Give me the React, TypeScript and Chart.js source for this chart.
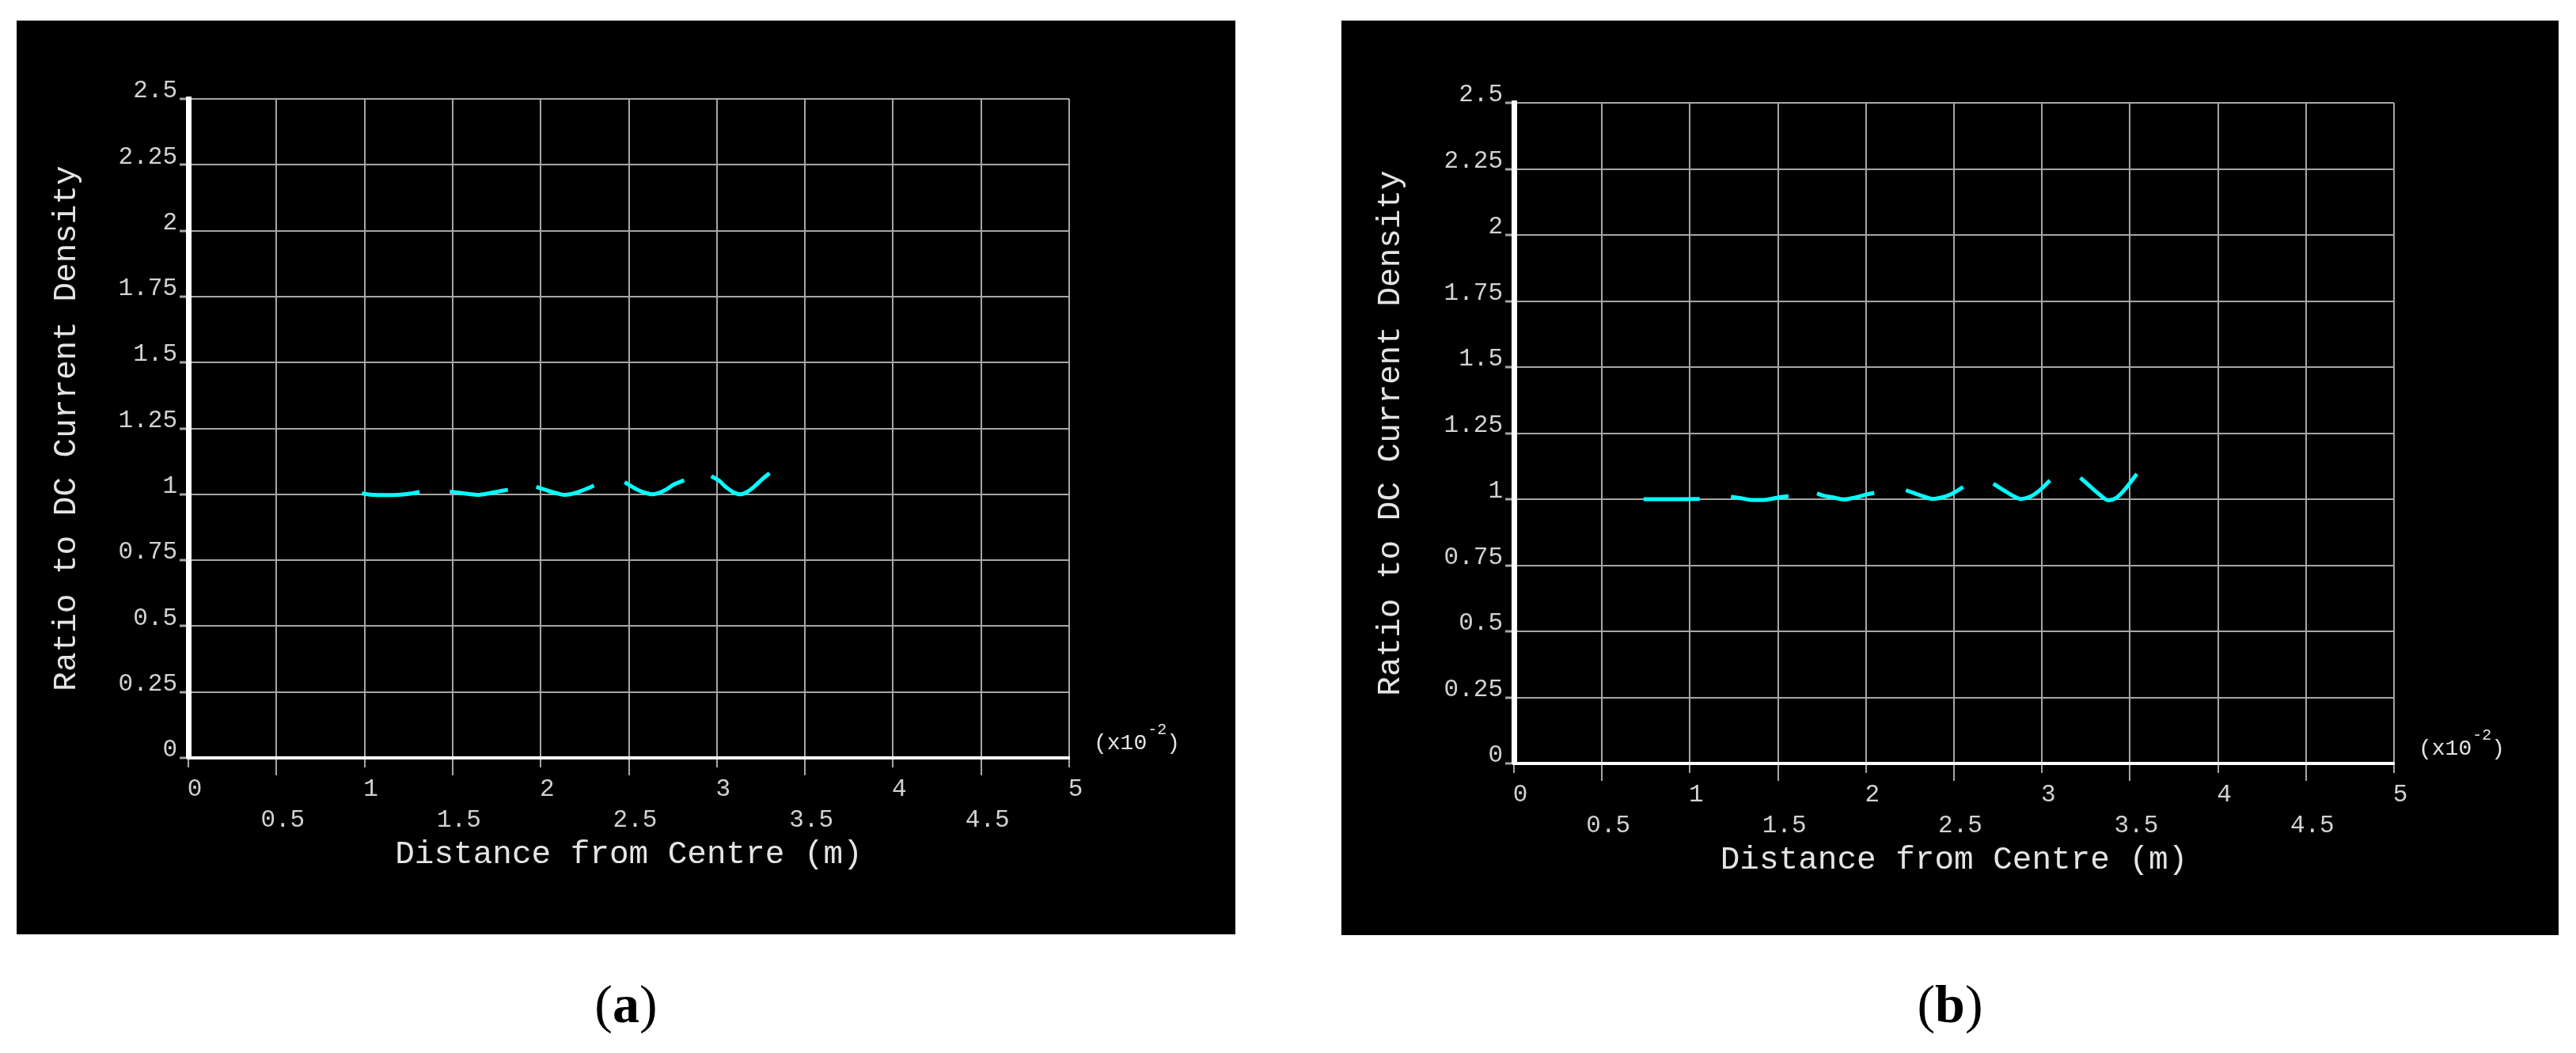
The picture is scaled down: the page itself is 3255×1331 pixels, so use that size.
import React, { useEffect, useRef } from 'react';
import { Chart, registerables } from 'chart.js';

Chart.register(...registerables);

// ---------- axis data ----------
const xTickValues = [0, 0.5, 1, 1.5, 2, 2.5, 3, 3.5, 4, 4.5, 5];
const xTickLabels = ['0', '0.5', '1', '1.5', '2', '2.5', '3', '3.5', '4', '4.5', '5'];
const yTickValues = [0, 0.25, 0.5, 0.75, 1, 1.25, 1.5, 1.75, 2, 2.25, 2.5];
const yTickLabels = ['0', '0.25', '0.5', '0.75', '1', '1.25', '1.5', '1.75', '2', '2.25', '2.5'];
const xAxisTitle = 'Distance from Centre (m)';
const yAxisTitle = 'Ratio to DC Current Density';
const scaleNoteMain = '(x10';
const scaleNoteSup = '-2';
const scaleNoteEnd = ')';
const captions = ['a', 'b'];

// ---------- panel (a) series ----------
const a1X = [0.985, 1.057, 1.132, 1.207, 1.267, 1.312];
const a1Y = [1.003, 0.998, 0.997, 0.999, 1.003, 1.009];
const a2X = [1.484, 1.536, 1.596, 1.641, 1.701, 1.761, 1.814];
const a2Y = [1.011, 1.006, 1.001, 0.998, 1.003, 1.011, 1.017];
const a3X = [1.975, 2.031, 2.092, 2.132, 2.172, 2.222, 2.262, 2.302];
const a3Y = [1.028, 1.016, 1.004, 0.998, 1.001, 1.011, 1.021, 1.033];
const a4X = [2.477, 2.513, 2.553, 2.593, 2.633, 2.673, 2.713, 2.753, 2.814];
const a4Y = [1.046, 1.031, 1.016, 1.006, 1.0, 1.006, 1.018, 1.036, 1.053];
const a5X = [2.968, 3.014, 3.054, 3.094, 3.134, 3.174, 3.215, 3.255, 3.299];
const a5Y = [1.069, 1.051, 1.026, 1.008, 1.0, 1.01, 1.031, 1.056, 1.08];

// ---------- panel (b) series ----------
const b1X = [0.736, 0.85, 0.95, 1.055];
const b1Y = [1.0, 1.0, 1.0, 1.001];
const b2X = [1.233, 1.29, 1.35, 1.41, 1.47, 1.515, 1.56];
const b2Y = [1.009, 1.004, 0.997, 0.997, 1.002, 1.008, 1.012];
const b3X = [1.722, 1.755, 1.815, 1.875, 1.92, 1.965, 2.01, 2.047];
const b3Y = [1.022, 1.014, 1.007, 0.999, 1.004, 1.011, 1.019, 1.024];
const b4X = [2.227, 2.277, 2.334, 2.378, 2.426, 2.483, 2.552];
const b4Y = [1.034, 1.022, 1.009, 1.001, 1.006, 1.019, 1.046];
const b5X = [2.724, 2.782, 2.827, 2.88, 2.931, 2.988, 3.045];
const b5Y = [1.059, 1.034, 1.016, 1.001, 1.009, 1.034, 1.071];
const b6X = [3.218, 3.264, 3.321, 3.378, 3.424, 3.47, 3.539];
const b6Y = [1.081, 1.054, 1.021, 0.996, 1.006, 1.036, 1.096];

const seriesA = [[a1X, a1Y], [a2X, a2Y], [a3X, a3Y], [a4X, a4Y], [a5X, a5Y]];
const seriesB = [[b1X, b1Y], [b2X, b2Y], [b3X, b3Y], [b4X, b4Y], [b5X, b5Y], [b6X, b6Y]];

const MONO = '"Liberation Mono", "DejaVu Sans Mono", monospace';
const LINE_COLOR = '#00ffff';
const GRID_COLOR = '#a6a6a6';
const TICK_TEXT = '#d2d2d2';
const TITLE_TEXT = '#e4e4e4';

const notePlugin = {
  id: 'scaleNote',
  afterDraw(chart: any) {
    const { ctx, chartArea } = chart;
    ctx.save();
    ctx.fillStyle = TITLE_TEXT;
    ctx.textBaseline = 'middle';
    ctx.textAlign = 'left';
    let x = chartArea.right + 31;
    const y = chartArea.bottom - 18;
    ctx.font = `28px ${MONO}`;
    ctx.fillText(scaleNoteMain, x, y);
    x += ctx.measureText(scaleNoteMain).width + 1;
    ctx.font = `20px ${MONO}`;
    ctx.fillText(scaleNoteSup, x, y - 17);
    x += ctx.measureText(scaleNoteSup).width;
    ctx.font = `28px ${MONO}`;
    ctx.fillText(scaleNoteEnd, x, y);
    ctx.restore();
  },
};

type PanelProps = {
  left: number;
  top: number;
  width: number;
  height: number;
  area: { left: number; right: number; top: number; bottom: number };
  yTitlePad: number;
  xTitlePad: number;
  series: number[][][];
};

function Panel({ left, top, width, height, area, yTitlePad, xTitlePad, series }: PanelProps) {
  const ref = useRef<HTMLCanvasElement | null>(null);

  useEffect(() => {
    if (!ref.current) return;
    const datasets = series.map(([xs, ys], i) => ({
      label: `layer ${i + 1}`,
      data: xs.map((x, j) => ({ x, y: ys[j] })),
      showLine: true,
      borderColor: LINE_COLOR,
      backgroundColor: LINE_COLOR,
      borderWidth: 5,
      pointRadius: 0,
      tension: 0.4,
      cubicInterpolationMode: 'monotone' as const,
      fill: false,
    }));

    const chart = new Chart(ref.current, {
      type: 'scatter',
      data: { datasets },
      plugins: [notePlugin],
      options: {
        animation: false,
        responsive: false,
        devicePixelRatio: 1,
        layout: {
          padding: { left: 0, top: area.top, right: width - area.right, bottom: 0 },
        },
        plugins: {
          legend: { display: false },
          tooltip: { enabled: false },
          title: { display: false },
        },
        scales: {
          x: {
            type: 'linear',
            min: 0,
            max: 5,
            afterBuildTicks: (scale: any) => {
              scale.ticks = xTickValues.map((v) => ({ value: v }));
            },
            afterFit: (scale: any) => {
              scale.height = height - area.bottom;
            },
            grid: {
              color: GRID_COLOR,
              lineWidth: 2,
              drawTicks: true,
              tickLength: 22,
              tickColor: GRID_COLOR,
              tickWidth: 2,
              tickBorderDash: (ctx: any) => {
                const idx = ctx.index ?? 0;
                return idx % 2 === 0 ? [10, 100] : [];
              },
            },
            border: { display: true, color: '#ffffff', width: 4 },
            ticks: {
              autoSkip: false,
              maxRotation: 0,
              minRotation: 0,
              padding: -2,
              labelOffset: 8,
              color: TICK_TEXT,
              font: { family: MONO, size: 31, lineHeight: 1.26 },
              callback: (_v: any, index: number) => {
                const lbl = xTickLabels[index] ?? '';
                return index % 2 === 0 ? [lbl] : ['', lbl];
              },
            },
            title: {
              display: true,
              text: xAxisTitle,
              color: TITLE_TEXT,
              font: { family: MONO, size: 41, lineHeight: 1.2 },
              padding: { top: 0, bottom: xTitlePad },
            },
          },
          y: {
            type: 'linear',
            min: 0,
            max: 2.5,
            afterBuildTicks: (scale: any) => {
              scale.ticks = yTickValues.map((v) => ({ value: v }));
            },
            afterFit: (scale: any) => {
              scale.width = area.left;
            },
            grid: {
              color: GRID_COLOR,
              lineWidth: 2,
              drawTicks: true,
              tickLength: 11,
              tickColor: GRID_COLOR,
              tickWidth: 3,
            },
            border: { display: true, color: '#ffffff', width: 7 },
            ticks: {
              autoSkip: false,
              padding: 3,
              labelOffset: -10,
              color: TICK_TEXT,
              font: { family: MONO, size: 31 },
              callback: (_v: any, index: number) => yTickLabels[index] ?? '',
            },
            title: {
              display: true,
              text: yAxisTitle,
              color: TITLE_TEXT,
              font: { family: MONO, size: 41, lineHeight: 1.2 },
              padding: { top: yTitlePad, bottom: 0 },
            },
          },
        },
      } as any,
    });
    return () => chart.destroy();
  }, []);

  return (
    <canvas
      ref={ref}
      width={width}
      height={height}
      style={{
        position: 'absolute',
        left,
        top,
        width,
        height,
        background: '#000000',
        display: 'block',
      }}
    />
  );
}

function Caption({ cx, cy, letter }: { cx: number; cy: number; letter: string }) {
  return (
    <div
      style={{
        position: 'absolute',
        left: cx - 150,
        top: cy - 37,
        width: 300,
        textAlign: 'center',
        fontFamily: '"Liberation Serif", "DejaVu Serif", serif',
        fontSize: 68,
        lineHeight: '68px',
        color: '#000',
      }}
    >
      (<b>{letter}</b>)
    </div>
  );
}

export default function App() {
  return (
    <div
      style={{
        position: 'absolute',
        left: 0,
        top: 0,
        width: 3255,
        height: 1331,
        background: '#ffffff',
        overflow: 'hidden',
      }}
    >
      <Panel
        left={21}
        top={26}
        width={1540}
        height={1155}
        area={{ left: 217, right: 1330, top: 99, bottom: 932 }}
        yTitlePad={39}
        xTitlePad={76}
        series={seriesA}
      />
      <Panel
        left={1695}
        top={26}
        width={1538}
        height={1156}
        area={{ left: 218, right: 1330, top: 104, bottom: 939 }}
        yTitlePad={38}
        xTitlePad={70}
        series={seriesB}
      />
      <Caption cx={791} cy={1272} letter={captions[0]} />
      <Caption cx={2464} cy={1272} letter={captions[1]} />
    </div>
  );
}
